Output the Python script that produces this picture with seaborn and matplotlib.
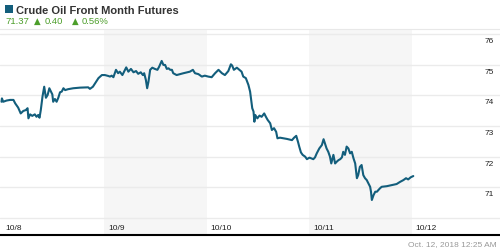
import matplotlib
matplotlib.use("Agg")
import matplotlib.pyplot as plt
import seaborn as sns
import pandas as pd

# ---- data (hours since 10/8 00:00, price) ----
hours = [0.0, 0.1, 0.4, 1.2, 2.0, 2.8, 3.2, 3.9, 4.5, 5.1, 5.7, 6.1, 6.3, 6.7, 7.2, 7.8, 8.2, 8.6, 8.9, 9.2,
         9.6, 10.0, 10.4, 10.8, 11.2, 11.6, 11.9, 12.1, 12.5, 12.9, 13.3, 13.7, 14.1, 14.5, 14.9, 15.6, 16.8,
         18.4, 20.3, 20.7, 21.4, 21.9, 22.7, 23.5, 24.2, 25.0,
         25.4, 25.8, 26.2, 26.8, 27.3, 27.7, 28.3, 29.2, 29.7, 30.3, 30.9, 31.5, 32.0, 32.6, 33.1, 33.4, 33.8,
         34.1, 34.4, 34.8, 35.3, 35.9, 36.5, 36.9, 37.5, 37.9, 38.3, 38.7, 39.1, 39.5, 39.9, 40.2, 41.0, 42.6,
         44.1, 44.8, 45.3, 46.1, 46.9, 47.6, 48.4,
         49.2, 50.0, 50.8, 51.6, 52.3, 53.1, 53.7, 54.0, 54.4, 55.1, 55.7, 56.2, 56.6, 57.2, 57.8, 58.2, 58.4,
         58.7, 59.0, 59.2, 59.4, 59.9, 60.4, 60.9, 61.5, 61.9, 62.3, 62.9, 63.3, 63.8, 64.3, 64.6, 65.2, 66.8,
         68.0, 68.5, 69.0, 69.4, 69.7, 70.1, 70.5, 71.1, 71.5, 72.1,
         73.0, 73.4, 73.8, 74.4, 75.0, 75.4, 75.7, 76.1, 76.5, 76.9, 77.2, 77.5, 77.7, 78.1, 78.5, 78.9, 79.3,
         79.7, 80.0, 80.4, 80.8, 81.2, 81.6, 82.0, 82.4, 82.8, 83.2, 83.5, 83.9, 84.3, 84.7, 85.1, 85.5, 85.9,
         86.3, 86.5, 86.7, 87.1, 87.5, 87.9, 88.2, 88.6, 89.0, 90.2, 92.5, 93.3, 94.1, 94.7, 95.2, 95.8, 96.1,
         96.4]
prices = [73.79, 73.90, 73.79, 73.83, 73.85, 73.85, 73.74, 73.60, 73.41, 73.49, 73.52, 73.58, 73.25, 73.38,
          73.33, 73.38, 73.30, 73.36, 73.27, 73.52, 73.96, 74.28, 73.92, 74.01, 74.23, 74.12, 74.03, 73.79,
          73.88, 73.79, 73.92, 74.10, 74.12, 74.23, 74.17, 74.20, 74.23, 74.25, 74.26, 74.21, 74.28, 74.39,
          74.56, 74.66, 74.66, 74.63,
          74.61, 74.64, 74.59, 74.83, 74.72, 74.77, 74.66, 74.91, 74.77, 74.86, 74.75, 74.79, 74.70, 74.75,
          74.66, 74.72, 74.50, 74.23, 74.44, 74.83, 74.90, 74.86, 74.83, 74.93, 75.12, 74.99, 74.99, 74.86,
          74.88, 74.83, 74.83, 74.72, 74.66, 74.72, 74.77, 74.83, 74.72, 74.69, 74.61, 74.64, 74.61,
          74.59, 74.72, 74.83, 74.72, 74.66, 74.79, 75.01, 74.97, 74.83, 74.90, 74.83, 74.77, 74.61, 74.56,
          74.34, 74.12, 73.90, 73.58, 73.47, 73.14, 73.36, 73.25, 73.34, 73.30, 73.41, 73.30, 73.20, 73.09,
          72.87, 72.93, 72.81, 72.60, 72.62, 72.58, 72.54, 72.62, 72.68, 72.49, 72.33, 72.14, 72.06, 72.00,
          71.92, 71.97,
          71.92, 71.98, 72.11, 72.27, 72.38, 72.57, 72.44, 72.27, 72.16, 72.00, 71.78, 71.95, 72.06, 71.78,
          71.84, 71.89, 71.92, 71.98, 72.16, 72.06, 72.33, 72.27, 72.11, 72.16, 71.95, 71.78, 71.30, 71.40,
          71.67, 71.73, 71.40, 71.30, 71.24, 71.13, 71.02, 70.86, 70.59, 70.75, 70.86, 70.86, 70.91, 70.97,
          71.02, 71.04, 71.11, 71.18, 71.24, 71.30, 71.26, 71.33, 71.35, 71.37]

day_labels = ["10/8", "10/9", "10/10", "10/11", "10/12"]
day_starts = [0, 24, 48, 72, 96]
y_ticks = [70, 71, 72, 73, 74, 75, 76]
y_labels = ["", "71", "72", "73", "74", "75", "76"]
title = "Crude Oil Front Month Futures"
last_price = "71.37"
change = "0.40"
change_pct = "0.56%"
timestamp = "Oct. 12, 2018 12:25 AM"

LINE = "#135e7c"
GREEN = "#4c9e2a"

sns.set_style("white")
plt.rcParams["font.family"] = ["Liberation Sans", "DejaVu Sans"]

df = pd.DataFrame({"hours": hours, "price": prices})

fig = plt.figure(figsize=(5, 2.5), dpi=100)
ax = fig.add_axes([0, 0.06, 1, 0.824])

# shaded alternate days
for i, d in enumerate(day_starts):
    if i % 2 == 1:
        ax.axvspan(d, d + 24, color="#f6f6f6", lw=0, zorder=0)

for v in y_ticks:
    ax.axhline(v, color="#ebebeb", lw=1, zorder=1)

sns.lineplot(data=df, x="hours", y="price", ax=ax, color=LINE, lw=1.5,
             estimator=None, sort=False, zorder=3)

ax.set_xlim(-0.35, 116.7)
ax.set_ylim(69.45, 76.16)
ax.set_xticks([])
ax.set_yticks([])
ax.set_xlabel("")
ax.set_ylabel("")

for s in ["left", "right"]:
    ax.spines[s].set_visible(False)
ax.spines["top"].set_color("#e8e8e8")
ax.spines["top"].set_linewidth(0.8)
ax.spines["bottom"].set_color("black")
ax.spines["bottom"].set_linewidth(1.5)

for v, lab in zip(y_ticks, y_labels):
    if lab:
        ax.annotate(lab, xy=(1, v), xycoords=("axes fraction", "data"),
                    xytext=(-4.5, -2.8), textcoords="offset points",
                    ha="right", va="top", fontsize=6, color="#222222")

for d, lab in zip(day_starts, day_labels):
    ax.annotate(lab, xy=(d, 0), xycoords=("data", "axes fraction"),
                xytext=(2.8, 2.2), textcoords="offset points",
                ha="left", va="bottom", fontsize=6, color="#222222")

# header
fig.patches.append(plt.Rectangle((5 / 500, 1 - 13 / 250), 8 / 500, 8 / 250,
                                 transform=fig.transFigure, color=LINE, lw=0))
fig.text(16 / 500, 1 - 13.5 / 250, title, fontsize=8, fontweight="bold",
         color="#333333", ha="left", va="baseline")
fig.text(5 / 500, 1 - 24.5 / 250, last_price, fontsize=6.8, color=GREEN, ha="left", va="baseline")
fig.text(34 / 500, 1 - 24 / 250, "\u25b2", fontsize=6.2, color=GREEN, ha="left", va="baseline",
         family=["DejaVu Sans"])
fig.text(44.5 / 500, 1 - 24.5 / 250, change, fontsize=6.8, color=GREEN, ha="left", va="baseline")
fig.text(72 / 500, 1 - 24 / 250, "\u25b2", fontsize=6.2, color=GREEN, ha="left", va="baseline",
         family=["DejaVu Sans"])
fig.text(82 / 500, 1 - 24.5 / 250, change_pct, fontsize=6.8, color=GREEN, ha="left", va="baseline")

fig.text(497 / 500, 1 - 248 / 250, timestamp, fontsize=6, color="#999999", ha="right", va="bottom")

fig.savefig("out.png", dpi=100)
